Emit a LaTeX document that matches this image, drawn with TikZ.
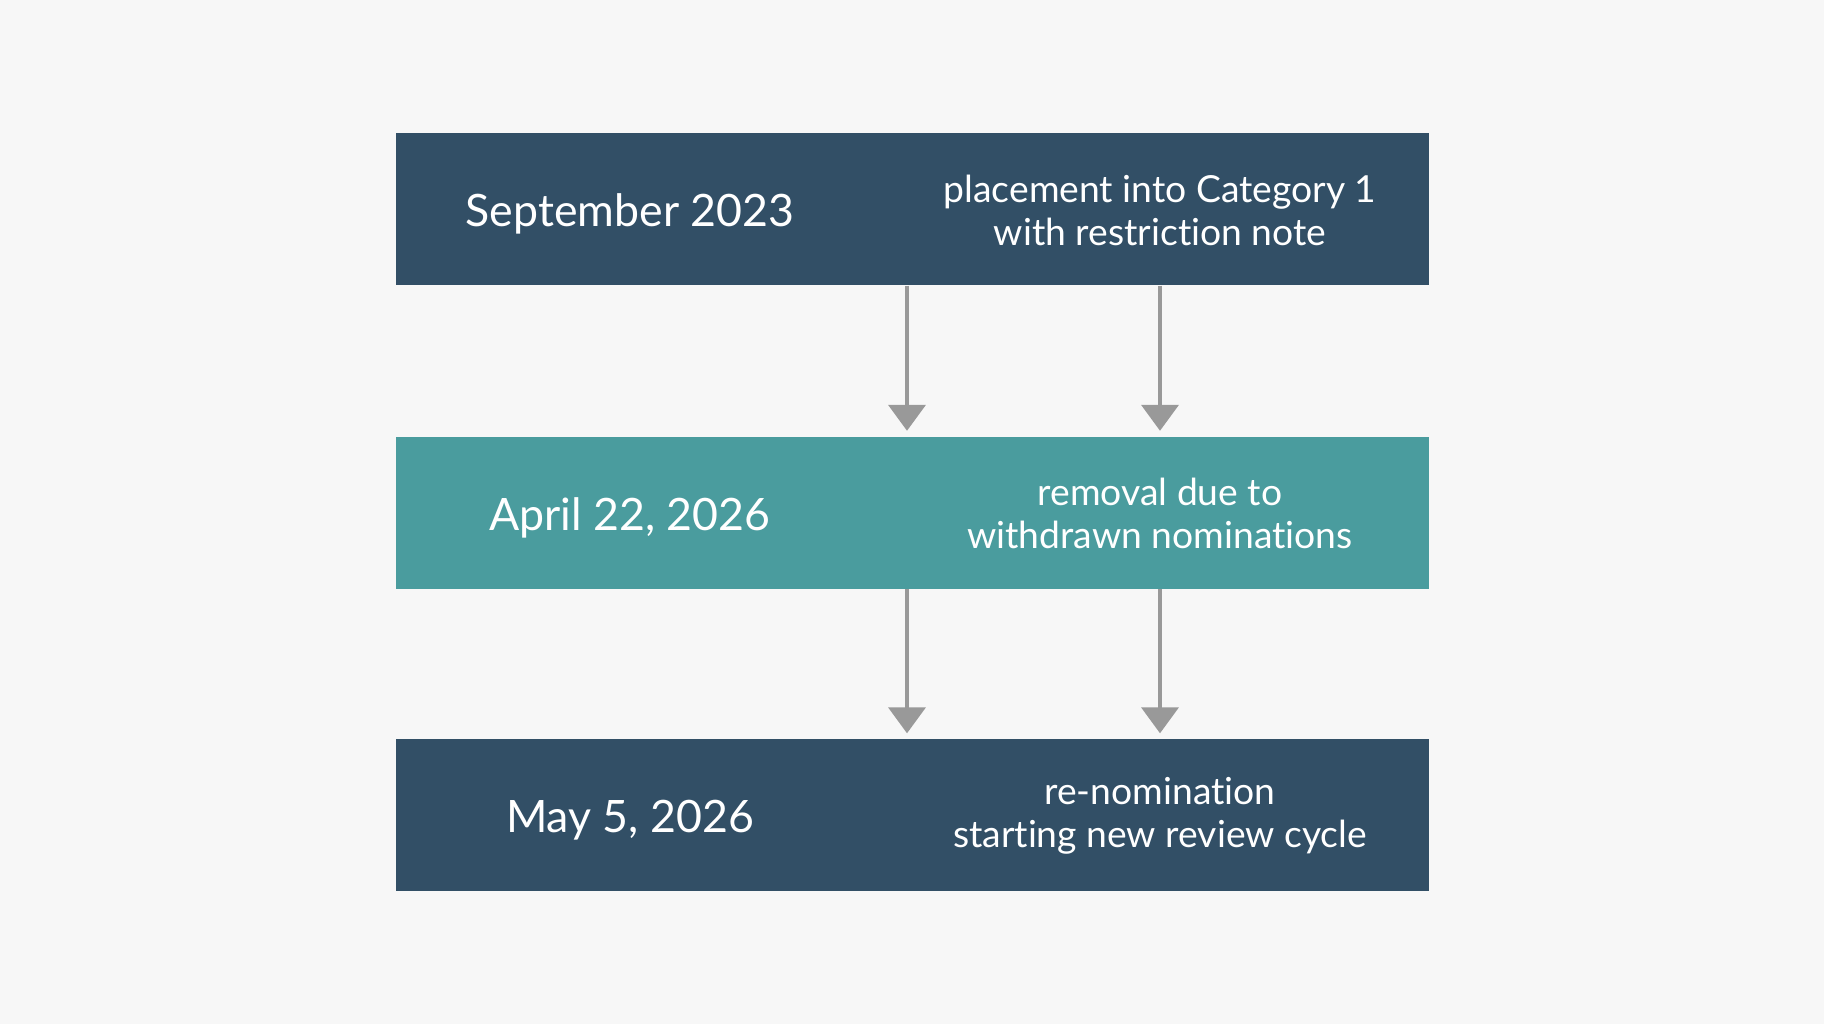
\documentclass[tikz,border=0pt]{standalone}
\usepackage{fontspec}
\setmainfont{Lato}[Ligatures=NoCommon]
\usetikzlibrary{arrows.meta,positioning}
\definecolor{navy}{HTML}{324F66}
\definecolor{teal}{HTML}{4A9C9E}
\definecolor{arrowgray}{HTML}{999999}
\definecolor{paper}{HTML}{F7F7F7}
\tikzset{
	band/.style={rectangle, minimum width=10.33cm, minimum height=1.52cm, inner sep=0pt},
	datetext/.style={text=white, font=\fontsize{12.7}{15}\selectfont},
	notetext/.style={text=white, font=\fontsize{10.6}{12.2}\selectfont, align=center},
	flow/.style={draw=arrowgray, line width=1.1pt, shorten >=0.05cm, -{Triangle[width=0.37cm, length=0.26cm]}}
}
\begin{document}
\begin{tikzpicture}
		\fill [paper] (0, 0) rectangle (18.24, -10.24);
		\useasboundingbox (0, 0) rectangle (18.24, -10.24);
		
		\node [band, fill=navy] (B1) at (9.12, -2.09) {};
		\node [band, fill=teal] (B2) at (9.12, -5.125) {};
		\node [band, fill=navy] (B3) at (9.12, -8.15) {};
		
		\node [datetext] (D1) at (6.30, -2.14) {September 2023};
		\node [datetext] (D2) at (6.30, -5.175) {April 22, 2026};
		\node [datetext] (D3) at (6.30, -8.20) {May 5, 2026};
		
		\node [notetext] (N1) at (11.60, -2.10) {placement into Category 1\\with restriction note};
		\node [notetext] (N2) at (11.60, -5.135) {removal due to\\withdrawn nominations};
		\node [notetext] (N3) at (11.60, -8.16) {re-nomination\\starting new review cycle};
		
		\draw [flow] ([xshift=-0.05cm]B1.south) -- ([xshift=-0.05cm]B2.north);
		\draw [flow] (N1 |- B1.south) -- (N2 |- B2.north);
		\draw [flow] ([xshift=-0.05cm]B2.south) -- ([xshift=-0.05cm]B3.north);
		\draw [flow] (N2 |- B2.south) -- (N3 |- B3.north); %second row
	\end{tikzpicture}
\end{document}
